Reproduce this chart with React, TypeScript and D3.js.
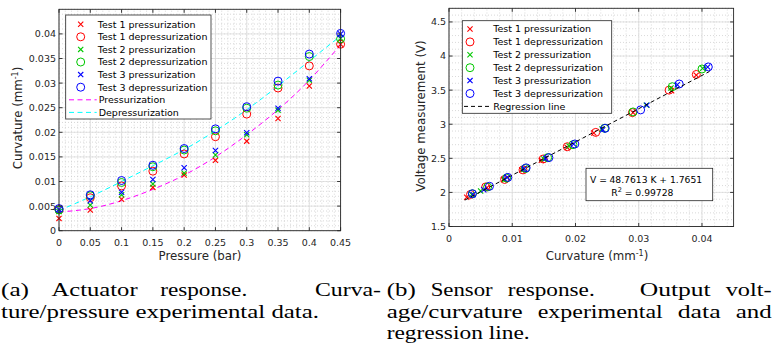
import * as d3 from 'd3';

// ---- (a) actuator response: curvature (mm^-1) vs pressure (bar)
const pressure = [0, 0.05, 0.1, 0.15, 0.2, 0.25, 0.3, 0.35, 0.4, 0.45];
const t1PressCurv = [0.0025, 0.0042, 0.0064, 0.0088, 0.0113, 0.0143, 0.0182, 0.0228, 0.0294, 0.0379];
const t1DepressCurv = [0.0043, 0.0067, 0.0091, 0.0121, 0.0156, 0.0191, 0.0237, 0.029, 0.0335, 0.0379];
const t2PressCurv = [0.0039, 0.0052, 0.0073, 0.0095, 0.0117, 0.0154, 0.0195, 0.0245, 0.0306, 0.0391];
const t2DepressCurv = [0.0042, 0.0071, 0.0098, 0.013, 0.0164, 0.0203, 0.0249, 0.0296, 0.0354, 0.039];
const t3PressCurv = [0.0043, 0.0061, 0.0078, 0.0104, 0.0128, 0.0163, 0.0199, 0.0249, 0.0309, 0.04];
const t3DepressCurv = [0.0045, 0.0073, 0.0102, 0.0133, 0.0167, 0.0207, 0.0252, 0.0304, 0.0359, 0.0401];
const pressFit = [0.0038, 0.0045, 0.0061, 0.0084, 0.0113, 0.015, 0.0195, 0.0246, 0.0306, 0.0378];
const depressFit = [0.0041, 0.0069, 0.01, 0.0132, 0.0165, 0.0203, 0.0246, 0.0294, 0.0345, 0.0396];

// ---- (b) sensor response: voltage (V) vs curvature (mm^-1)
const s1PressK = [0.0028, 0.006, 0.0086, 0.0115, 0.0146, 0.0187, 0.0229, 0.0291, 0.0352, 0.0391];
const s1PressV = [1.93, 2.07, 2.19, 2.33, 2.47, 2.66, 2.87, 3.17, 3.49, 3.72];
const s1DepressK = [0.0034, 0.0058, 0.0088, 0.0117, 0.0149, 0.0187, 0.0232, 0.029, 0.0348, 0.0391];
const s1DepressV = [1.97, 2.08, 2.19, 2.33, 2.49, 2.67, 2.88, 3.17, 3.5, 3.73];
const s2PressK = [0.0036, 0.005, 0.0088, 0.0118, 0.015, 0.019, 0.0242, 0.0312, 0.0351, 0.0401];
const s2PressV = [1.97, 2.02, 2.19, 2.34, 2.49, 2.68, 2.93, 3.28, 3.53, 3.82];
const s2DepressK = [0.0037, 0.0061, 0.0091, 0.0121, 0.0156, 0.0196, 0.0246, 0.0291, 0.0353, 0.04];
const s2DepressV = [1.98, 2.08, 2.21, 2.35, 2.51, 2.7, 2.94, 3.18, 3.55, 3.81];
const s3PressK = [0.0038, 0.0055, 0.0092, 0.0119, 0.0153, 0.0197, 0.0243, 0.0313, 0.0361, 0.0409];
const s3PressV = [1.97, 2.04, 2.22, 2.35, 2.5, 2.71, 2.92, 3.28, 3.58, 3.84];
const s3DepressK = [0.0037, 0.0064, 0.0093, 0.0122, 0.0158, 0.0199, 0.0247, 0.0303, 0.0364, 0.041];
const s3DepressV = [1.98, 2.09, 2.22, 2.36, 2.51, 2.71, 2.94, 3.21, 3.59, 3.84];
const regK = [0.0025, 0.0412];
const regV = [1.887, 3.774];

const legendNames = [
  'Test 1 pressurization', 'Test 1 depressurization',
  'Test 2 pressurization', 'Test 2 depressurization',
  'Test 3 pressurization', 'Test 3 depressurization',
];
const pressureTicks = [0, 0.05, 0.1, 0.15, 0.2, 0.25, 0.3, 0.35, 0.4, 0.45];
const curvTicks = [0, 0.005, 0.01, 0.015, 0.02, 0.025, 0.03, 0.035, 0.04];
const sensorKTicks = [0, 0.01, 0.02, 0.03, 0.04];
const voltTicks = [1.5, 2, 2.5, 3, 3.5, 4, 4.5];

const RED = '#ff0000';
const GREEN = '#00c800';
const BLUE = '#0000ff';
const SANS = '"DejaVu Sans", Verdana, sans-serif';
const SERIF = '"Liberation Serif", "Times New Roman", serif';
const AX = '#262626';

const styles = [
  { color: RED, kind: 'x' }, { color: RED, kind: 'o' },
  { color: GREEN, kind: 'x' }, { color: GREEN, kind: 'o' },
  { color: BLUE, kind: 'x' }, { color: BLUE, kind: 'o' },
];

const actuatorSeries = [t1PressCurv, t1DepressCurv, t2PressCurv, t2DepressCurv, t3PressCurv, t3DepressCurv]
  .map((ys, i) => ({ ...styles[i], name: legendNames[i], xs: pressure, ys }));
const sensorSeries = [
  [s1PressK, s1PressV], [s1DepressK, s1DepressV],
  [s2PressK, s2PressV], [s2DepressK, s2DepressV],
  [s3PressK, s3PressV], [s3DepressK, s3DepressV],
].map(([xs, ys], i) => ({ ...styles[i], name: legendNames[i], xs, ys }));

function Marker({ kind, x, y, color }: { kind: string; x: number; y: number; color: string }) {
  if (kind === 'o') {
    return <circle cx={x} cy={y} r={4} fill="none" stroke={color} strokeWidth={1} />;
  }
  const s = 2.6;
  return (
    <path d={`M${x - s},${y - s}L${x + s},${y + s}M${x - s},${y + s}L${x + s},${y - s}`}
      stroke={color} strokeWidth={1.1} fill="none" />
  );
}

function fmt(v: number) {
  return String(+v.toFixed(4));
}

function Frame({ x, y, xTicks, yTicks, xMinor, yMinor }: any) {
  const [x0, x1] = x.range();
  const [y0, y1] = y.range();
  return (
    <g>
      {/* minor grid */}
      {xMinor.map((t: number, i: number) => (
        <line key={'xm' + i} x1={x(t)} x2={x(t)} y1={y0} y2={y1} stroke="#c8c8c8" strokeWidth={0.7} strokeDasharray="1,2" />
      ))}
      {yMinor.map((t: number, i: number) => (
        <line key={'ym' + i} y1={y(t)} y2={y(t)} x1={x0} x2={x1} stroke="#c8c8c8" strokeWidth={0.7} strokeDasharray="1,2" />
      ))}
      {/* major grid */}
      {xTicks.map((t: number, i: number) => (
        <line key={'xg' + i} x1={x(t)} x2={x(t)} y1={y0} y2={y1} stroke="#dcdcdc" strokeWidth={0.8} />
      ))}
      {yTicks.map((t: number, i: number) => (
        <line key={'yg' + i} y1={y(t)} y2={y(t)} x1={x0} x2={x1} stroke="#dcdcdc" strokeWidth={0.8} />
      ))}
    </g>
  );
}

function Axes({ x, y, xTicks, yTicks }: any) {
  const [x0, x1] = x.range();
  const [y0, y1] = y.range();
  const tl = 3.5;
  return (
    <g>
      <rect x={x0} y={y1} width={x1 - x0} height={y0 - y1} fill="none" stroke={AX} strokeWidth={0.9} />
      {xTicks.map((t: number, i: number) => (
        <g key={'xt' + i}>
          <line x1={x(t)} x2={x(t)} y1={y0} y2={y0 - tl} stroke={AX} strokeWidth={0.9} />
          <line x1={x(t)} x2={x(t)} y1={y1} y2={y1 + tl} stroke={AX} strokeWidth={0.9} />
          <text x={x(t)} y={y0 + 15.5} textAnchor="middle" fontFamily={SANS} fontSize={9.5} fill={AX}>{fmt(t)}</text>
        </g>
      ))}
      {yTicks.map((t: number, i: number) => (
        <g key={'yt' + i}>
          <line y1={y(t)} y2={y(t)} x1={x0} x2={x0 + tl} stroke={AX} strokeWidth={0.9} />
          <line y1={y(t)} y2={y(t)} x1={x1} x2={x1 - tl} stroke={AX} strokeWidth={0.9} />
          <text x={x0 - 3} y={y(t) + 3.4} textAnchor="end" fontFamily={SANS} fontSize={9.5} fill={AX}>{fmt(t)}</text>
        </g>
      ))}
    </g>
  );
}

function ActuatorChart() {
  const x = d3.scaleLinear().domain([0, 0.45]).range([59, 340.6]);
  const y = d3.scaleLinear().domain([0, 0.045]).range([230.7, 9.3]);
  const line = d3.line<number>().x((_, i) => x(pressure[i])).y(d => y(d)).curve(d3.curveNatural);
  const xMinor = d3.range(0, 0.4501, 0.01);
  const yMinor = d3.range(0, 0.0451, 0.001);
  const lg = { x: 65.7, y: 15, w: 145.3, h: 104 };
  const rowY = (i: number) => lg.y + 9.2 + i * 12.6;
  return (
    <g>
      <Frame x={x} y={y} xTicks={pressureTicks} yTicks={curvTicks} xMinor={xMinor} yMinor={yMinor} />
      <path d={line(pressFit) || ''} fill="none" stroke="#ff00ff" strokeWidth={1} strokeDasharray="5,3.5" />
      <path d={line(depressFit) || ''} fill="none" stroke="#00ffff" strokeWidth={1} strokeDasharray="5,3.5" />
      {actuatorSeries.map((s, si) => (
        <g key={si}>
          {s.ys.map((v, i) => <Marker key={i} kind={s.kind} color={s.color} x={x(s.xs[i])} y={y(v)} />)}
        </g>
      ))}
      <Axes x={x} y={y} xTicks={pressureTicks} yTicks={curvTicks} />
      <text x={200} y={260} textAnchor="middle" fontFamily={SANS} fontSize={11.8} fill={AX}>Pressure (bar)</text>
      <text transform="translate(22,118) rotate(-90)" textAnchor="middle" fontFamily={SANS} fontSize={11.8} fill={AX}>
        Curvature (mm<tspan dy={-4.5} fontSize={8}>-1</tspan><tspan dy={4.5}>)</tspan>
      </text>
      {/* legend */}
      <rect x={lg.x} y={lg.y} width={lg.w} height={lg.h} fill="#fff" stroke={AX} strokeWidth={0.8} />
      {actuatorSeries.map((s, i) => (
        <g key={'lg' + i}>
          <Marker kind={s.kind} color={s.color} x={80.7} y={rowY(i)} />
          <text x={97.7} y={rowY(i) + 3.4} fontFamily={SANS} fontSize={9.5} fill="#000">{s.name}</text>
        </g>
      ))}
      {[['Pressurization', '#ff00ff'], ['Depressurization', '#00ffff']].map(([name, c], i) => (
        <g key={'lf' + i}>
          <line x1={69} x2={96.7} y1={rowY(6 + i)} y2={rowY(6 + i)} stroke={c} strokeWidth={1} strokeDasharray="5,3.5" />
          <text x={98.7} y={rowY(6 + i) + 3.4} fontFamily={SANS} fontSize={9.5} fill="#000">{name}</text>
        </g>
      ))}
    </g>
  );
}

function SensorChart() {
  const x = d3.scaleLinear().domain([0, 0.045]).range([449, 733.6]);
  const y = d3.scaleLinear().domain([1.5, 4.7]).range([226.5, 8.3]);
  const xMinor = d3.range(0, 0.0451, 0.002);
  const yMinor = d3.range(1.5, 4.701, 0.1);
  const lg = { x: 462.3, y: 20.7, w: 149.4, h: 92.6 };
  const rowY = (i: number) => lg.y + 8.3 + i * 12.9;
  return (
    <g>
      <Frame x={x} y={y} xTicks={sensorKTicks} yTicks={voltTicks} xMinor={xMinor} yMinor={yMinor} />
      {sensorSeries.map((s, si) => (
        <g key={si}>
          {s.ys.map((v, i) => <Marker key={i} kind={s.kind} color={s.color} x={x(s.xs[i])} y={y(v)} />)}
        </g>
      ))}
      <line x1={x(regK[0])} x2={x(regK[1])} y1={y(regV[0])} y2={y(regV[1])} stroke="#000" strokeWidth={1} strokeDasharray="4,3" />
      <Axes x={x} y={y} xTicks={sensorKTicks} yTicks={voltTicks} />
      <text x={597} y={260} textAnchor="middle" fontFamily={SANS} fontSize={11.8} fill={AX}>
        Curvature (mm<tspan dy={-4.5} fontSize={8}>-1</tspan><tspan dy={4.5}>)</tspan>
      </text>
      <text transform="translate(425,116) rotate(-90)" textAnchor="middle" fontFamily={SANS} fontSize={11.8} fill={AX}>
        Voltage measurement (V)
      </text>
      {/* legend */}
      <rect x={lg.x} y={lg.y} width={lg.w} height={lg.h} fill="#fff" stroke={AX} strokeWidth={0.8} />
      {sensorSeries.map((s, i) => (
        <g key={'lg' + i}>
          <Marker kind={s.kind} color={s.color} x={470} y={rowY(i)} />
          <text x={493.3} y={rowY(i) + 3.4} fontFamily={SANS} fontSize={9.5} fill="#000">{s.name}</text>
        </g>
      ))}
      <line x1={464} x2={491.7} y1={rowY(6)} y2={rowY(6)} stroke="#000" strokeWidth={1} strokeDasharray="4,3" />
      <text x={493.3} y={rowY(6) + 3.4} fontFamily={SANS} fontSize={9.5} fill="#000">Regression line</text>
      {/* equation box */}
      <rect x={586} y={168.3} width={126.7} height={32.4} fill="#fff" stroke={AX} strokeWidth={0.8} />
      <text x={590} y={182.5} fontFamily={SANS} fontSize={9.2} fill="#000">V =</text>
      <text x={609.5} y={182.5} fontFamily={SANS} fontSize={9.2} fill="#000">48.7613 K + 1.7651</text>
      <text x={611.3} y={195.5} fontFamily={SANS} fontSize={9.2} fill="#000">
        R<tspan dy={-3.5} fontSize={6.5}>2</tspan><tspan dy={3.5}> = 0.99728</tspan>
      </text>
    </g>
  );
}

// caption lines: words with their target widths (px); justified lines spread between left and right
type Word = { t: string; w: number; stop?: boolean };
const captionLines: { y: number; left: number; right: number; justify: boolean; words: Word[] }[] = [
  { y: 296, left: 1, right: 381, justify: true,
    words: [{ t: '(a)', w: 28 }, { t: 'Actuator', w: 86 }, { t: 'response.', w: 87, stop: true }, { t: 'Curva-', w: 66 }] },
  { y: 318, left: 1, right: 0, justify: false,
    words: [{ t: 'ture/pressure experimental data.', w: 318 }] },
  { y: 296, left: 386.7, right: 771.7, justify: true,
    words: [{ t: '(b)', w: 29 }, { t: 'Sensor', w: 62 }, { t: 'response.', w: 87, stop: true }, { t: 'Output', w: 71 }, { t: 'volt-', w: 46 }] },
  { y: 318, left: 386.7, right: 771.7, justify: true,
    words: [{ t: 'age/curvature', w: 136 }, { t: 'experimental', w: 125 }, { t: 'data', w: 43 }, { t: 'and', w: 36 }] },
  { y: 339, left: 386.7, right: 0, justify: false,
    words: [{ t: 'regression line.', w: 143 }] },
];

function Caption() {
  const out: any[] = [];
  captionLines.forEach((ln, li) => {
    const n = ln.words.length;
    let gapUnit = 0;
    if (ln.justify && n > 1) {
      const used = d3.sum(ln.words, w => w.w);
      const weights = d3.sum(ln.words.slice(0, -1), w => (w.stop ? 3 : 1));
      gapUnit = (ln.right - ln.left - used) / weights;
    }
    let cx = ln.left;
    ln.words.forEach((w, wi) => {
      out.push(
        <text key={li + '-' + wi} x={cx} y={ln.y} textLength={w.w} lengthAdjust="spacingAndGlyphs"
          fontFamily={SERIF} fontSize={19} fill="#000">{w.t}</text>
      );
      cx += w.w + gapUnit * (w.stop ? 3 : 1);
    });
  });
  return <g>{out}</g>;
}

export default function App() {
  return (
    <svg width={777} height={353} style={{ position: 'absolute', left: 0, top: 0, background: '#fff' }}>
      <rect width={777} height={353} fill="#fff" />
      <ActuatorChart />
      <SensorChart />
      <Caption />
    </svg>
  );
}
